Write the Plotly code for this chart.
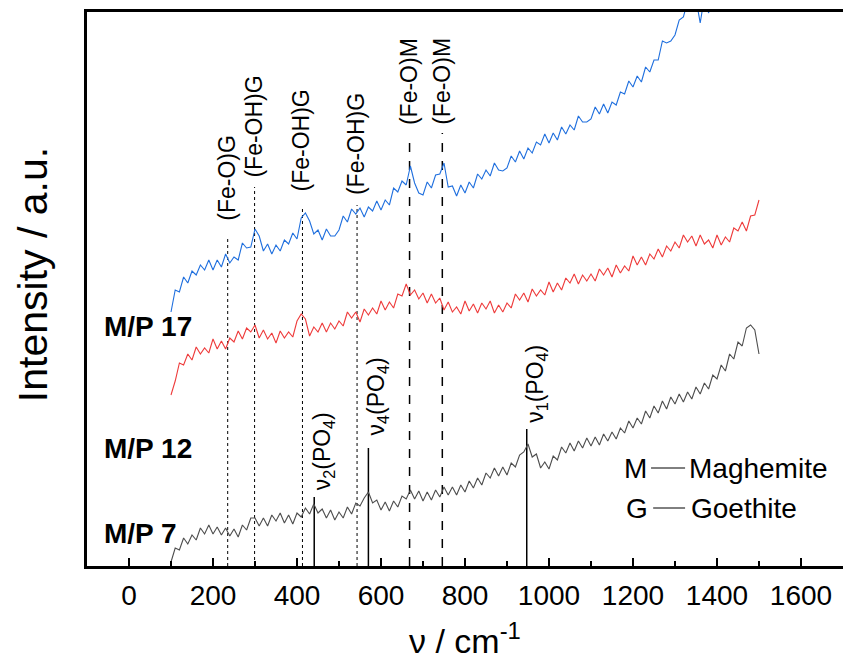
import plotly.graph_objects as go

# Wavenumbers (cm^-1)
x_gray = list(range(100, 1501, 10))
x_red = list(range(100, 1501, 10))
x_blue = list(range(100, 1401, 10))

# M/P 7 (gray) intensity, arbitrary units
y_gray = [4, 18, 16, 28, 22, 31, 26, 38, 32, 41, 32, 39, 31, 38, 30, 37, 29, 41, 36, 48,
          48, 40, 48, 40, 51, 45, 53, 43, 51, 42, 53, 49, 58, 52, 62, 53, 57, 48, 56, 46,
          54, 48, 59, 52, 63, 60, 68, 74, 63, 66, 56, 64, 55, 65, 59, 70, 67, 76, 67, 75,
          65, 74, 66, 76, 69, 79, 71, 79, 71, 81, 74, 85, 78, 88, 81, 93, 88, 98, 90, 99,
          91, 103, 99, 111, 114, 122, 109, 112, 98, 104, 97, 110, 106, 119, 113, 123, 115, 125, 118, 128,
          120, 129, 121, 132, 125, 134, 127, 138, 133, 145, 138, 148, 142, 155, 148, 160, 153, 165, 157, 169,
          162, 172, 164, 174, 167, 179, 172, 183, 177, 191, 187, 201, 195, 212, 207, 224, 220, 238, 241, 236,
          212]

# M/P 12 (red)
y_red = [171, 185, 203, 201, 212, 206, 219, 212, 218, 213, 227, 217, 225, 217, 228, 224, 235, 227, 238, 234,
         241, 228, 236, 227, 233, 223, 235, 228, 234, 229, 245, 252, 247, 230, 239, 234, 243, 234, 243, 237,
         245, 240, 254, 248, 254, 244, 257, 251, 258, 252, 265, 256, 264, 258, 272, 270, 282, 271, 276, 267,
         273, 263, 272, 263, 268, 256, 264, 254, 259, 252, 265, 255, 262, 253, 263, 257, 265, 253, 261, 254,
         263, 258, 272, 266, 273, 264, 277, 270, 276, 271, 284, 274, 283, 276, 288, 283, 292, 282, 291, 285,
         292, 285, 297, 291, 298, 289, 301, 293, 300, 295, 310, 301, 309, 301, 312, 307, 317, 309, 320, 315,
         324, 318, 331, 324, 330, 320, 331, 322, 326, 318, 331, 321, 329, 324, 338, 335, 344, 335, 350, 351,
         366]

# M/P 17 (blue)
y_blue = [254, 276, 274, 289, 283, 295, 291, 301, 296, 306, 296, 306, 299, 312, 303, 309, 306, 323, 318, 319,
          337, 330, 315, 322, 312, 321, 315, 326, 322, 333, 327, 348, 353, 345, 332, 336, 326, 337, 330, 330,
          336, 350, 344, 357, 352, 358, 349, 359, 355, 365, 356, 366, 361, 378, 374, 385, 381, 400, 383, 373,
          371, 384, 378, 391, 392, 403, 379, 380, 370, 381, 373, 384, 378, 392, 387, 396, 390, 403, 396, 395,
          398, 410, 404, 415, 407, 418, 413, 424, 421, 432, 423, 433, 426, 439, 432, 441, 436, 450, 444, 444,
          447, 459, 452, 462, 453, 464, 461, 474, 472, 485, 479, 490, 484, 499, 494, 506, 506, 525, 523, 525,
          531, 546, 549, 565, 557, 567, 543, 569, 553, 572, 557]

# Band markers
goethite_pos = [235, 299, 413, 543]
goethite_top = [329, 379, 359, 361]
goethite_lbl = ["(Fe-O)G", "(Fe-OH)G", "(Fe-OH)G", "(Fe-OH)G"]
goethite_lbl_y = [343, 386, 373, 369]

maghemite_pos = [668, 746]
maghemite_top = [431, 433]
maghemite_lbl = ["(Fe-O)M", "(Fe-O)M"]
maghemite_lbl_y = [439, 439]

po4_pos = [441, 570, 947]
po4_top = [69, 118, 137]
po4_lbl = ["ν<sub>2</sub>(PO<sub>4</sub>)", "ν<sub>4</sub>(PO<sub>4</sub>)", "ν<sub>1</sub>(PO<sub>4</sub>)"]
po4_lbl_y = [74, 129, 141]

sample_names = ["M/P 17", "M/P 12", "M/P 7"]
sample_y = [240, 118, 33]

x_ticks = [0, 200, 400, 600, 800, 1000, 1200, 1400, 1600]

FONT = "Liberation Sans, Arial, sans-serif"

fig = go.Figure()

# vertical marker lines (drawn below spectra)
for p, t in zip(goethite_pos, goethite_top):
    fig.add_trace(go.Scatter(x=[p, p], y=[0, t], mode="lines",
                             line=dict(color="black", width=1, dash="dot"),
                             showlegend=False, hoverinfo="skip"))
for p, t in zip(maghemite_pos, maghemite_top):
    fig.add_trace(go.Scatter(x=[p, p], y=[0, t], mode="lines",
                             line=dict(color="black", width=1.5, dash="dash"),
                             showlegend=False, hoverinfo="skip"))
for p, t in zip(po4_pos, po4_top):
    fig.add_trace(go.Scatter(x=[p, p], y=[0, t], mode="lines",
                             line=dict(color="black", width=1.5),
                             showlegend=False, hoverinfo="skip"))

fig.add_trace(go.Scatter(x=x_gray, y=y_gray, mode="lines",
                         line=dict(color="#4D4D4D", width=1.1), showlegend=False))
fig.add_trace(go.Scatter(x=x_red, y=y_red, mode="lines",
                         line=dict(color="#EE3B3B", width=1.1), showlegend=False))
fig.add_trace(go.Scatter(x=x_blue, y=y_blue, mode="lines",
                         line=dict(color="#1F6FDE", width=1.1), showlegend=False))

annotations = []
for p, l, yy in zip(goethite_pos + maghemite_pos, goethite_lbl + maghemite_lbl,
                    goethite_lbl_y + maghemite_lbl_y):
    annotations.append(dict(x=p, y=yy, xref="x", yref="y", text=l, textangle=-90,
                            showarrow=False, xanchor="center", yanchor="bottom", xshift=-1,
                            font=dict(family=FONT, size=23, color="black")))
for p, l, yy in zip(po4_pos, po4_lbl, po4_lbl_y):
    annotations.append(dict(x=p, y=yy, xref="x", yref="y", text=l, textangle=-90,
                            showarrow=False, xanchor="center", yanchor="bottom", xshift=9,
                            font=dict(family=FONT, size=23, color="black")))
for n, yy in zip(sample_names, sample_y):
    annotations.append(dict(x=-65, y=yy, xref="x", yref="y", text="<b>%s</b>" % n,
                            showarrow=False, xanchor="left", yanchor="middle",
                            font=dict(family=FONT, size=28, color="black")))

# legend-like key
annotations += [
    dict(x=1174, y=98, xref="x", yref="y", text="M", showarrow=False, xanchor="left",
         yanchor="middle", font=dict(family=FONT, size=28, color="black")),
    dict(x=1329, y=98, xref="x", yref="y", text="Maghemite", showarrow=False, xanchor="left",
         yanchor="middle", font=dict(family=FONT, size=28, color="black")),
    dict(x=1179, y=58, xref="x", yref="y", text="G", showarrow=False, xanchor="left",
         yanchor="middle", font=dict(family=FONT, size=28, color="black")),
    dict(x=1334, y=58, xref="x", yref="y", text="Goethite", showarrow=False, xanchor="left",
         yanchor="middle", font=dict(family=FONT, size=28, color="black")),
    dict(x=0.5, y=-0.13, xref="paper", yref="paper", text="ν / cm<sup>-1</sup>",
         showarrow=False, xanchor="center", yanchor="middle",
         font=dict(family=FONT, size=34, color="black")),
    dict(x=0, y=0.525, xref="paper", yref="paper", text="Intensity / a.u.", textangle=-90,
         showarrow=False, xanchor="center", yanchor="middle", xshift=-54,
         font=dict(family=FONT, size=41, color="black")),
]

shapes = [
    dict(type="line", xref="x", yref="y", x0=1243, x1=1324, y0=98, y1=98,
         line=dict(color="black", width=1)),
    dict(type="line", xref="x", yref="y", x0=1248, x1=1324, y0=58, y1=58,
         line=dict(color="black", width=1)),
]

fig.update_layout(
    width=843, height=666,
    margin=dict(l=87, r=0, t=12, b=100),
    paper_bgcolor="white", plot_bgcolor="white",
    annotations=annotations, shapes=shapes,
    xaxis=dict(range=[-100, 1700], tickvals=x_ticks, ticks="inside", ticklen=8, tickwidth=2,
               tickcolor="black", showline=True, linewidth=3, linecolor="black", mirror=True,
               showgrid=False, zeroline=False, ticklabelstandoff=2,
               tickfont=dict(family=FONT, size=28, color="black"),
               minor=dict(tickvals=[100, 300, 500, 700, 900, 1100, 1300, 1500],
                          ticks="inside", ticklen=5, tickwidth=2, tickcolor="black")),
    yaxis=dict(range=[0, 554], showticklabels=False, ticks="", showline=True, linewidth=3,
               linecolor="black", showgrid=False, zeroline=False),
)

fig.write_html("out.html")
